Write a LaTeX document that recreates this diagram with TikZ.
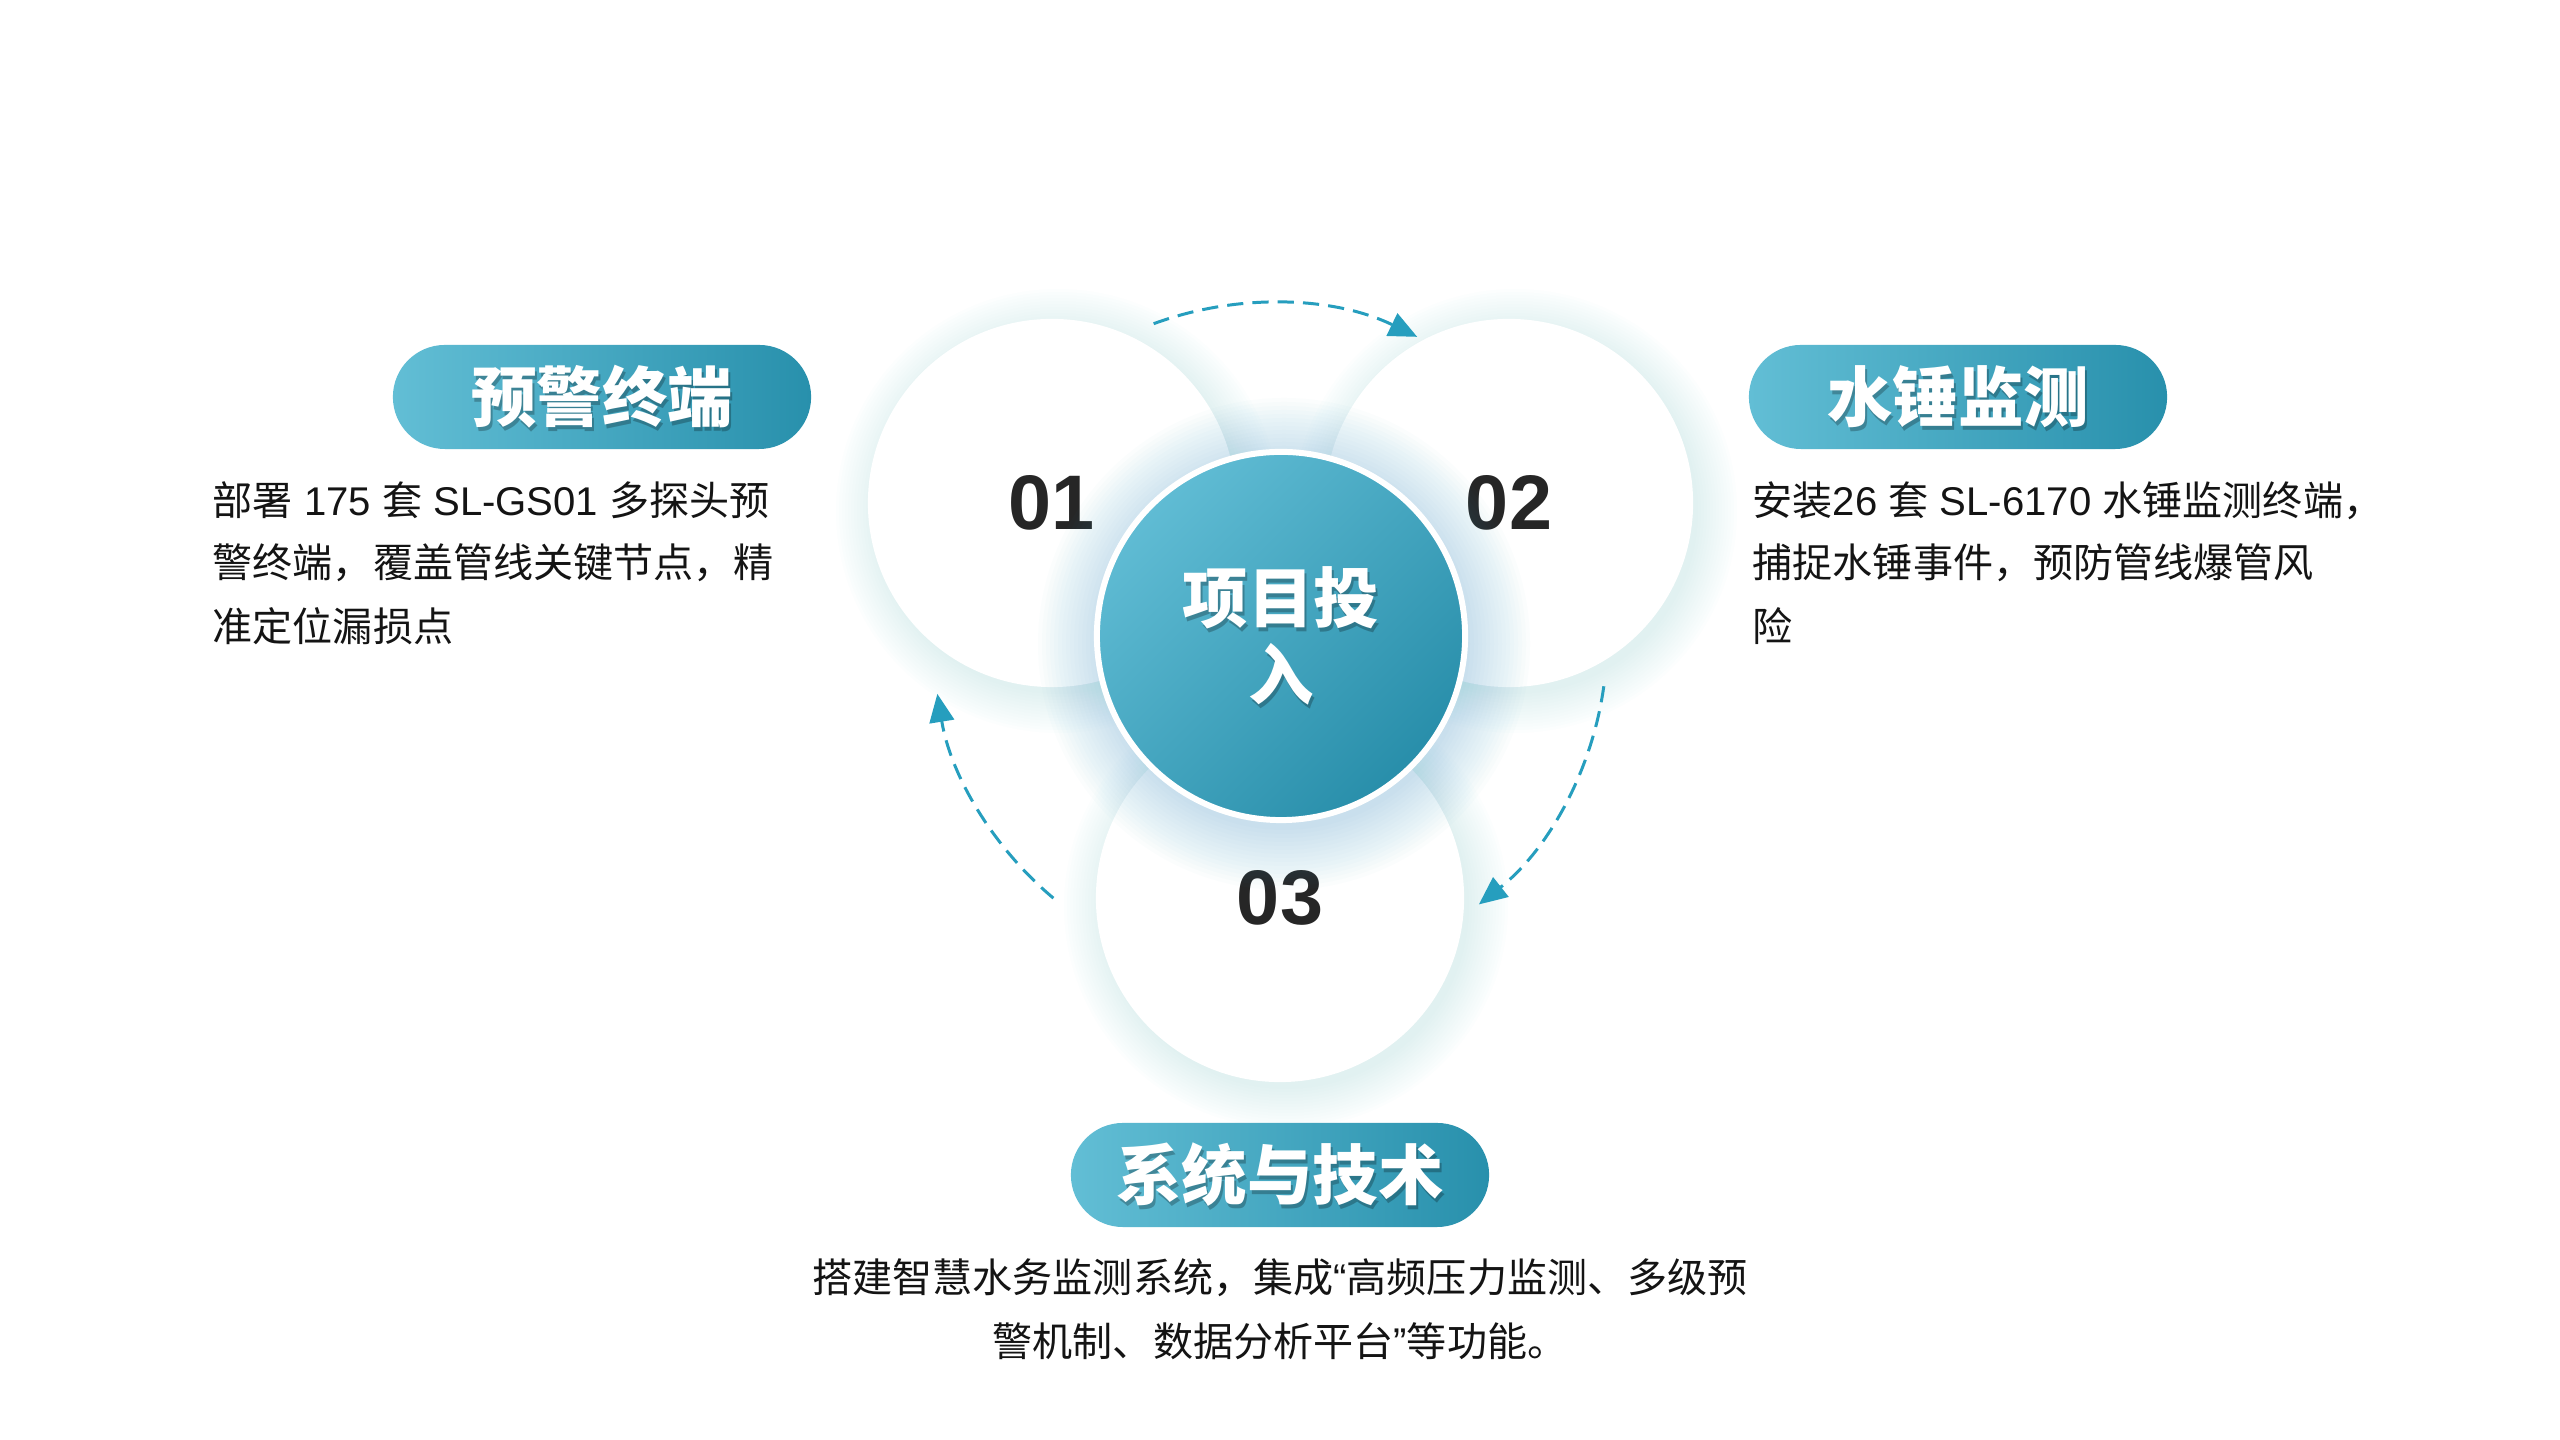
\documentclass[tikz,border=0pt]{standalone}
\usepackage{fontspec}
\newfontfamily\cjk{Noto Sans CJK SC}
\newfontfamily\numfont{Liberation Sans}
\usetikzlibrary{arrows.meta,calc}
\definecolor{tealL}{RGB}{96,188,212}
\definecolor{tealD}{RGB}{40,142,170}
\definecolor{pillL}{RGB}{98,190,213}
\definecolor{pillD}{RGB}{40,144,172}
\definecolor{glowc}{RGB}{80,172,200}
\definecolor{arcc}{RGB}{38,158,190}
\definecolor{numc}{RGB}{38,38,38}
\definecolor{textc}{RGB}{20,20,20}
\tikzset{
  outer/.style={circle, fill=white, minimum size=3.68cm, inner sep=0pt,
    font=\numfont\bfseries\fontsize{22pt}{24pt}\selectfont, text=numc},
  ctrcircle/.style={circle, minimum size=3.68cm, inner sep=0pt, draw=white, line width=1.7pt,
    top color=tealL, bottom color=tealD, shading angle=45},
  ctrtext/.style={align=center, inner sep=0pt, text=white,
    font=\cjk\bfseries\fontsize{18.6pt}{21.9pt}\selectfont},
  ctrshadow/.style={ctrtext, text=black, opacity=0.25},
  pill/.style={rounded corners=0.52cm, minimum width=4.18cm, minimum height=1.04cm,
    inner sep=0pt, left color=pillL, right color=pillD},
  ttl/.style={inner sep=0pt, text=white, font=\cjk\bfseries\fontsize{18.6pt}{20pt}\selectfont},
  ttlshadow/.style={ttl, text=black, opacity=0.25},
  body/.style={inner sep=0pt, text=textc, font=\cjk\fontsize{11.4pt}{17.9pt}\selectfont},
  arcline/.style={draw=arcc, line width=0.85pt, dash pattern=on 4.6pt off 2.6pt,
    -{Triangle[length=8pt, width=7pt]}},
}
\begin{document}
\begin{tikzpicture}[x=0.01cm,y=0.01cm]
\useasboundingbox (0,0) rectangle (2560,1440);
\fill[white] (0,0) rectangle (2560,1440);

\coordinate (c) at (1281,804);
\coordinate (o1) at (1052,937);
\coordinate (o2) at (1509,937);
\coordinate (o3) at (1280,542);
\coordinate (ac) at (1270,800);

% glows of outer circles
\foreach \p in {o1,o2,o3}{
  \foreach \k in {1,...,14}{
    \fill[glowc, opacity=0.013] ($(\p)+(6,-8)$) circle[radius={180+3*\k}];
  }
}
\node[outer] (n1) at (o1) {01};
\node[outer] (n2) at (o2) {02};
\node[outer] (n3) at (o3) {03};

% glow of center circle
\foreach \k in {1,...,16}{
  \fill[glowc, opacity=0.02] ($(c)+(3,-8)$) circle[radius={182+4*\k}];
}
\node[ctrcircle] (ctr) at (c) {};
\node[ctrshadow] (ctrs) at ($(c)+(2,-4)$) {项目投\\入};
\node[ctrtext] (ctrt) at (c) {项目投\\入};

% dashed arcs
\draw[arcline] ($(ac)+(110.2:337)$) arc[start angle=110.2, end angle=64.1, radius=337];
\draw[arcline] ($(ac)+(-7.9:337)$) arc[start angle=-7.9, end angle=-51.7, radius=337];
\draw[arcline] ($(ac)+(230:337)$) arc[start angle=230, end angle=189.2, radius=337];

% pills
\node[pill] (p1) at (602,1043) {};
\node[ttlshadow] (p1s) at ($(p1)+(2,-4)$) {预警终端};
\node[ttl] (p1t) at (p1) {预警终端};
\node[pill] (p2) at (1958,1043) {};
\node[ttlshadow] (p2s) at ($(p2)+(2,-4)$) {水锤监测};
\node[ttl] (p2t) at (p2) {水锤监测};
\node[pill] (p3) at (1280,265) {};
\node[ttlshadow] (p3s) at ($(p3)+(2,-4)$) {系统与技术};
\node[ttl] (p3t) at (p3) {系统与技术};

% body texts
\node[body, anchor=base west] (l1) at (212,924) {部署{\numfont\ 175 }套{\numfont\ SL-GS01 }多探头预};
\node[body, anchor=base west] (l2) at (212,862) {警终端，覆盖管线关键节点，精};
\node[body, anchor=base west] (l3) at (212,798) {准定位漏损点};
\node[body, anchor=base west] (r1) at (1752,924) {安装{\numfont 26 }套{\numfont\ SL-6170 }水锤监测终端，};
\node[body, anchor=base west] (r2) at (1752,862) {捕捉水锤事件，预防管线爆管风};
\node[body, anchor=base west] (r3) at (1752,798) {险};
\node[body, anchor=base] (b1) at (1280,147) {搭建智慧水务监测系统，集成{\numfont “}高频压力监测、多级预};
\node[body, anchor=base] (b2) at (1280,83) {警机制、数据分析平台{\numfont ”}等功能。};
\end{tikzpicture}
\end{document}
